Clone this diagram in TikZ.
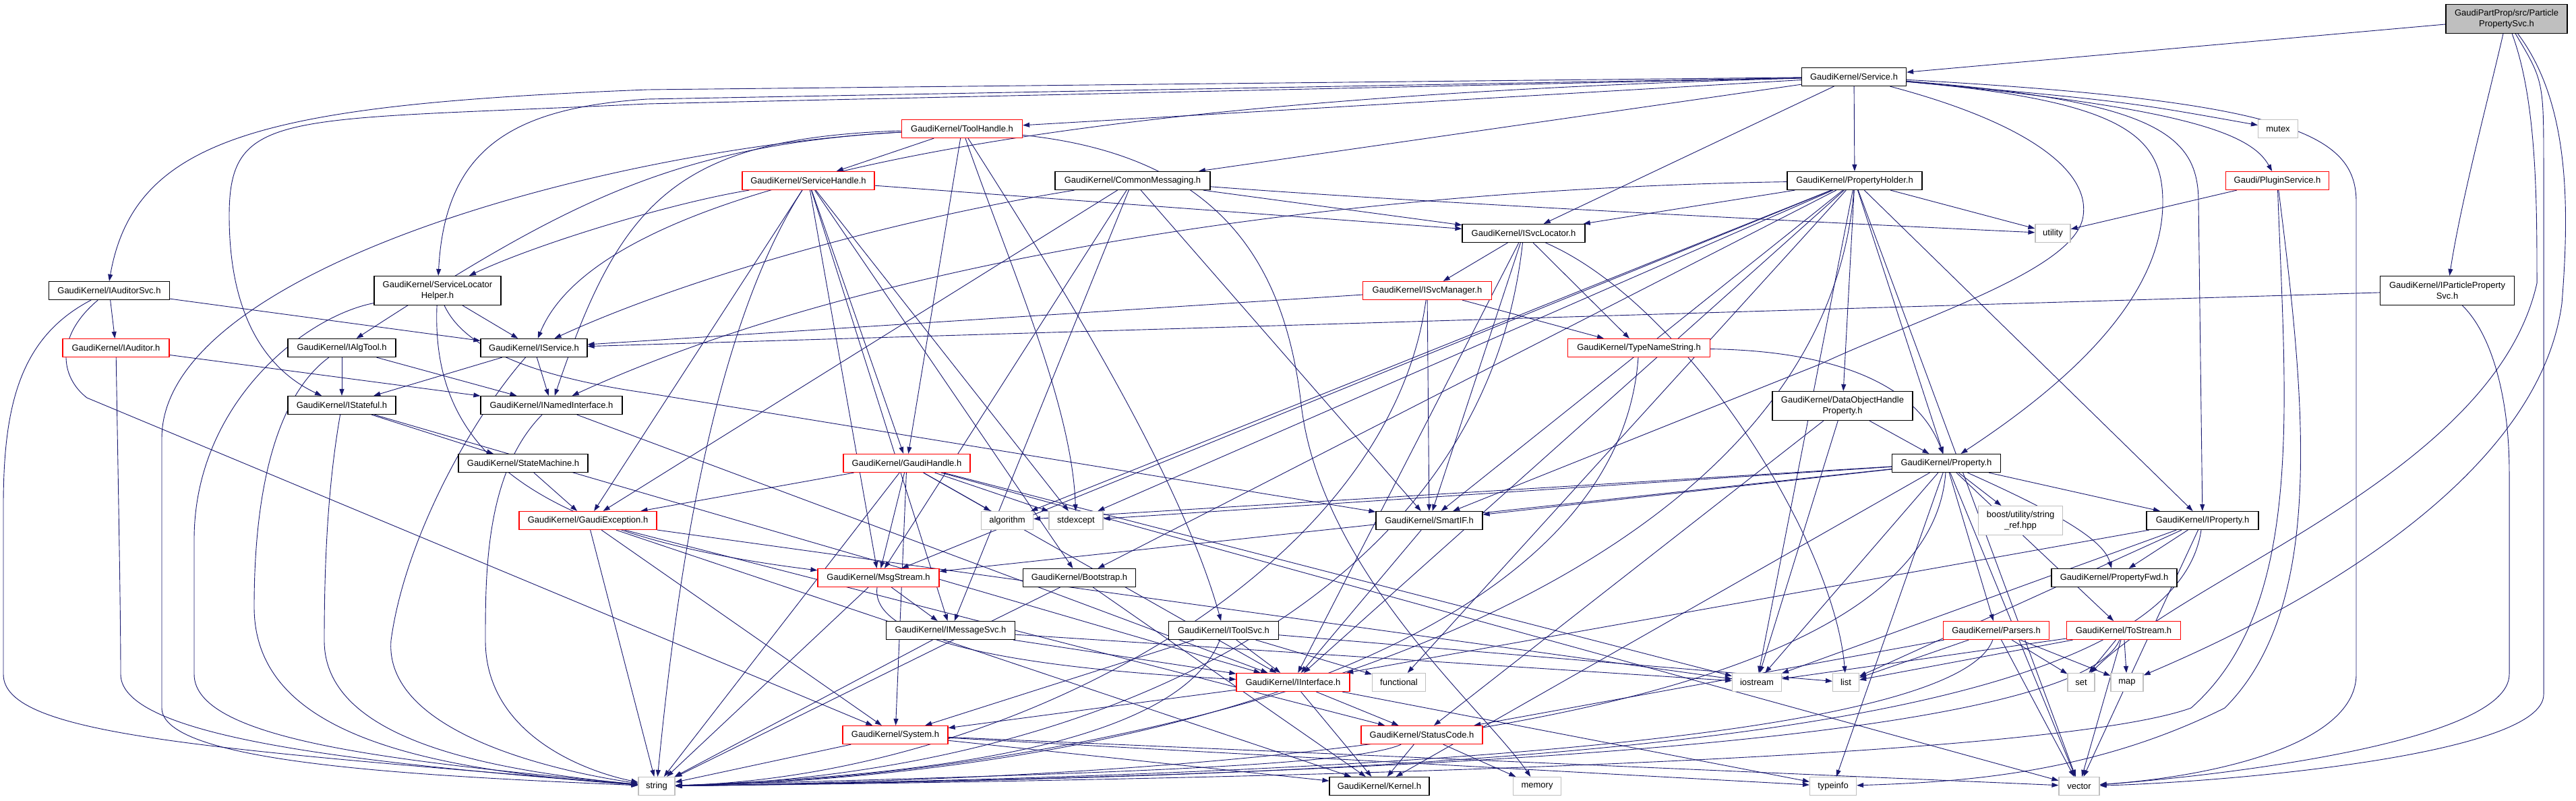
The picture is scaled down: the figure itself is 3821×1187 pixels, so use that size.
\documentclass[tikz,border=0pt]{standalone}
\usepackage{fontspec}
\setmainfont{Liberation Sans}
\usetikzlibrary{arrows.meta}
\pgfdeclarelayer{bg}
\pgfdeclarelayer{edgelayer}
\pgfsetlayers{bg,edgelayer,main}
\definecolor{edgec}{HTML}{191970}
\definecolor{sysgray}{HTML}{BFBFBF}
\tikzset{
  nb/.style={draw=black, fill=white, line width=1.2pt, minimum height=27pt, inner sep=0pt, font=\fontsize{13}{16}\selectfont, align=center},
  nred/.style={nb, draw=red},
  nsys/.style={nb, draw=sysgray},
  nroot/.style={nb, fill=sysgray},
  ed/.style={draw=edgec, line width=0.9pt, -{Triangle[length=10pt,width=7pt]}}
}
\begin{document}
\begin{tikzpicture}[x=1pt,y=-1pt]
\begin{pgfonlayer}{bg}
\fill[white] (0,0) rectangle (3821,1187);
\end{pgfonlayer}
\useasboundingbox (0,0) rectangle (3821,1187);
% nodes
\node[nroot, minimum width=180pt, minimum height=43pt] (pps) at (3718,28) {GaudiPartProp/src/Particle\\PropertySvc.h};
\node[nb, minimum width=155pt] (service) at (2750,114) {GaudiKernel/Service.h};
\node[nsys, minimum width=59pt] (mutex) at (3379,191) {mutex};
\node[nred, minimum width=179pt] (toolhandle) at (1427,191) {GaudiKernel/ToolHandle.h};
\node[nred, minimum width=153pt] (plugin) at (3378,268) {Gaudi/PluginService.h};
\node[nred, minimum width=196pt] (servicehandle) at (1199,268) {GaudiKernel/ServiceHandle.h};
\node[nb, minimum width=230pt] (commsg) at (1680,268) {GaudiKernel/CommonMessaging.h};
\node[nb, minimum width=200pt] (propholder) at (2751,268) {GaudiKernel/PropertyHolder.h};
\node[nsys, minimum width=52pt] (utility) at (3045,346) {utility};
\node[nb, minimum width=182pt] (isvcloc) at (2260,346) {GaudiKernel/ISvcLocator.h};
\node[nb, minimum width=179pt] (iauditorsvc) at (162,431) {GaudiKernel/IAuditorSvc.h};
\node[nb, minimum width=188pt, minimum height=43pt] (slh) at (649,431) {GaudiKernel/ServiceLocator\\Helper.h};
\node[nb, minimum width=199pt, minimum height=43pt] (ipps) at (3630,431) {GaudiKernel/IParticleProperty\\Svc.h};
\node[nred, minimum width=191pt] (isvcmgr) at (2117,431) {GaudiKernel/ISvcManager.h};
\node[nred, minimum width=158pt] (iauditor) at (172,516) {GaudiKernel/IAuditor.h};
\node[nb, minimum width=160pt] (ialgtool) at (507,516) {GaudiKernel/IAlgTool.h};
\node[nb, minimum width=158pt] (iservice) at (792,516) {GaudiKernel/IService.h};
\node[nred, minimum width=211pt] (typename) at (2431,516) {GaudiKernel/TypeNameString.h};
\node[nb, minimum width=160pt] (istateful) at (507,601) {GaudiKernel/IStateful.h};
\node[nb, minimum width=210pt] (inamed) at (818,601) {GaudiKernel/INamedInterface.h};
\node[nb, minimum width=208pt, minimum height=43pt] (dohp) at (2733,602) {GaudiKernel/DataObjectHandle\\Property.h};
\node[nb, minimum width=192pt] (statemachine) at (776,687) {GaudiKernel/StateMachine.h};
\node[nred, minimum width=188pt] (gaudihandle) at (1345,687) {GaudiKernel/GaudiHandle.h};
\node[nb, minimum width=161pt] (property) at (2887,687) {GaudiKernel/Property.h};
\node[nred, minimum width=204pt] (gaudiexc) at (872,772) {GaudiKernel/GaudiException.h};
\node[nsys, minimum width=77pt] (algorithm) at (1494,772) {algorithm};
\node[nsys, minimum width=80pt] (stdexcept) at (1596,772) {stdexcept};
\node[nb, minimum width=158pt] (smartif) at (2120,772) {GaudiKernel/SmartIF.h};
\node[nsys, minimum width=125pt, minimum height=43pt] (boost) at (2997,772) {boost/utility/string\\\_ref.hpp};
\node[nb, minimum width=166pt] (iproperty) at (3267,772) {GaudiKernel/IProperty.h};
\node[nred, minimum width=180pt] (msgstream) at (1303,857) {GaudiKernel/MsgStream.h};
\node[nb, minimum width=167pt] (bootstrap) at (1601,857) {GaudiKernel/Bootstrap.h};
\node[nb, minimum width=186pt] (propfwd) at (3136,857) {GaudiKernel/PropertyFwd.h};
\node[nb, minimum width=191pt] (imsgsvc) at (1410,935) {GaudiKernel/IMessageSvc.h};
\node[nb, minimum width=163pt] (itoolsvc) at (1815,935) {GaudiKernel/IToolSvc.h};
\node[nred, minimum width=157pt] (parsers) at (2961,935) {GaudiKernel/Parsers.h};
\node[nred, minimum width=169pt] (tostream) at (3150,935) {GaudiKernel/ToStream.h};
\node[nred, minimum width=168pt] (iinterface) at (1918,1012) {GaudiKernel/IInterface.h};
\node[nsys, minimum width=79pt] (functional) at (2075,1012) {functional};
\node[nsys, minimum width=73pt] (iostream) at (2606,1012) {iostream};
\node[nsys, minimum width=39pt] (list) at (2738,1012) {list};
\node[nsys, minimum width=40pt] (set) at (3087,1012) {set};
\node[nsys, minimum width=48pt] (map) at (3155,1012) {map};
\node[nred, minimum width=156pt] (system) at (1328,1090) {GaudiKernel/System.h};
\node[nred, minimum width=180pt] (statuscode) at (2109,1090) {GaudiKernel/StatusCode.h};
\node[nsys, minimum width=54pt] (string) at (974,1166) {string};
\node[nb, minimum width=148pt] (kernel) at (2046,1166) {GaudiKernel/Kernel.h};
\node[nsys, minimum width=71pt] (memory) at (2280,1166) {memory};
\node[nsys, minimum width=69pt] (typeinfo) at (2719,1166) {typeinfo};
\node[nsys, minimum width=60pt] (vector) at (3084,1166) {vector};

\begin{pgfonlayer}{edgelayer}
% ParticlePropertySvc
\draw[ed] (pps) -- (service);
\draw[ed] (pps) .. controls (3690,150) and (3650,300) .. (ipps);
\draw[ed] (pps) .. controls (3763,150) and (3763,300) .. (3763,420) .. controls (3700,700) and (3250,850) .. (set);
\draw[ed] (pps) .. controls (3810,150) and (3812,300) .. (3800,450) .. controls (3760,750) and (3300,950) .. (map);
\draw[ed] (pps) .. controls (3773,120) .. (3773,250) -- (3773,1030) .. controls (3773,1120) and (3300,1160) .. (vector);
% Service
\draw[ed] (service) -- (960,133) .. controls (400,155) and (200,200) .. (iauditorsvc.north);
\draw[ed] (service) -- (960,154) .. controls (420,180) and (340,160) .. (340,320) .. controls (340,500) and (420,560) .. (istateful);
\draw[ed] (service) -- (960,147) .. controls (760,160) and (660,220) .. (slh);
\draw[ed] (service) .. controls (1400,150) and (880,300) .. (iservice);
\draw[ed] (service) -- (toolhandle);
\draw[ed] (service) -- (commsg);
\draw[ed] (service) -- (isvcloc);
\draw[ed] (service) -- (propholder);
\draw[ed] (service) .. controls (3000,180) and (3100,250) .. (3090,320) .. controls (3080,400) and (2850,470) .. (2700,540) -- (smartif);
\draw[ed] (service) .. controls (3150,150) and (3208,200) .. (3208,300) .. controls (3208,450) and (3050,580) .. (property);
\draw[ed] (service) .. controls (3200,150) and (3261,200) .. (3261,300) -- (iproperty);
\draw[ed] (service) .. controls (3250,160) and (3340,200) .. (plugin);
\draw[ed] (service) .. controls (3150,150) .. (mutex);
\draw[ed] (service) .. controls (3400,150) and (3495,200) .. (3495,300) -- (3495,1000) .. controls (3495,1100) and (3300,1150) .. (vector);
% ToolHandle
\draw[ed] (toolhandle) -- (servicehandle);
\draw[ed] (toolhandle) -- (gaudihandle);
\draw[ed] (toolhandle) .. controls (1000,215) and (840,300) .. (ialgtool);
\draw[ed] (toolhandle) .. controls (1000,205) and (920,300) .. (inamed);
\draw[ed] (toolhandle) .. controls (900,220) and (240,400) .. (240,650) -- (240,1050) .. controls (240,1130) and (600,1150) .. (string);
\draw[ed] (toolhandle) .. controls (1500,400) and (1590,600) .. (stdexcept);
\draw[ed] (toolhandle) .. controls (1560,400) and (1750,700) .. (itoolsvc);
\draw[ed] (toolhandle) .. controls (1800,230) and (1905,380) .. (1930,600) .. controls (1960,850) and (2200,1050) .. (memory);
% ServiceHandle
\draw[ed] (servicehandle) .. controls (1000,300) and (800,360) .. (slh);
\draw[ed] (servicehandle) -- (isvcloc);
\draw[ed] (servicehandle) -- (gaudihandle);
\draw[ed] (servicehandle) -- (gaudiexc);
\draw[ed] (servicehandle) -- (msgstream);
\draw[ed] (servicehandle) -- (stdexcept);
\draw[ed] (servicehandle) .. controls (1050,500) and (1000,900) .. (string);
\draw[ed] (servicehandle) -- (bootstrap);
\draw[ed] (servicehandle) -- (imsgsvc);
% CommonMessaging
\draw[ed] (commsg) .. controls (1300,330) and (1000,420) .. (iservice);
\draw[ed] (commsg) -- (isvcloc);
\draw[ed] (commsg) .. controls (2100,300) and (2700,330) .. (utility);
\draw[ed] (commsg) -- (msgstream);
\draw[ed] (commsg) -- (imsgsvc);
\draw[ed] (commsg) -- (smartif);
\draw[ed] (commsg) -- (gaudiexc);
% PropertyHolder
\draw[ed] (propholder) -- (isvcloc);
\draw[ed] (propholder) .. controls (2000,280) and (1300,380) .. (inamed);
\draw[ed] (propholder) -- (dohp);
\draw[ed] (propholder) -- (property);
\draw[ed] (propholder) -- (iproperty);
\draw[ed] (propholder) -- (smartif);
\draw[ed] (propholder) -- (iostream);
\draw[ed] (propholder) .. controls (2700,900) and (1700,1150) .. (string);
\draw[ed] (propholder) -- (vector);
\draw[ed] (propholder) -- (utility);
\draw[ed] (propholder) -- (algorithm);
\draw[ed] (propholder) -- (stdexcept);
\draw[ed] (propholder) -- (msgstream);
\draw[ed] (propholder) -- (iinterface);
\draw[ed] (propholder) -- (functional);
\draw[ed] (propholder) -- (bootstrap);
% ISvcLocator
\draw[ed] (isvcloc) -- (isvcmgr);
\draw[ed] (isvcloc) -- (typename);
\draw[ed] (isvcloc) -- (smartif);
\draw[ed] (isvcloc) .. controls (2500,450) and (2720,800) .. (list);
\draw[ed] (isvcloc) .. controls (2200,900) and (1600,1150) .. (string);
\draw[ed] (isvcloc) -- (iinterface);
% ISvcManager
\draw[ed] (isvcmgr) -- (iservice);
\draw[ed] (isvcmgr) -- (typename);
\draw[ed] (isvcmgr) -- (smartif);
\draw[ed] (isvcmgr) .. controls (2060,850) and (1500,1150) .. (string);
% TypeNameString
\draw[ed] (typename) .. controls (2700,520) and (2840,560) .. (property);
\draw[ed] (typename) .. controls (2400,950) and (1700,1150) .. (string);
% IAuditorSvc
\draw[ed] (iauditorsvc) -- (iauditor);
\draw[ed] (iauditorsvc) -- (iservice);
\draw[ed] (iauditorsvc) .. controls (30,500) and (5,600) .. (5,750) -- (5,1000) .. controls (5,1090) and (300,1110) .. (string);
\draw[ed] (iauditorsvc) .. controls (80,500) and (90,560) .. (129,590) -- (system);
% IAuditor
\draw[ed] (iauditor) -- (inamed);
\draw[ed] (iauditor) .. controls (175,700) and (179,900) .. (179,1000) .. controls (179,1090) and (500,1130) .. (string);
% IAlgTool
\draw[ed] (ialgtool) -- (istateful);
\draw[ed] (ialgtool) -- (inamed);
\draw[ed] (ialgtool) .. controls (420,580) and (377,700) .. (377,900) .. controls (377,1080) and (600,1140) .. (string);
% IService
\draw[ed] (iservice) -- (istateful);
\draw[ed] (iservice) -- (inamed);
\draw[ed] (iservice) .. controls (700,620) and (600,800) .. (580,950) .. controls (570,1080) and (800,1140) .. (string);
% IStateful
\draw[ed] (istateful) -- (statemachine);
\draw[ed] (istateful) .. controls (490,700) and (481,800) .. (481,950) .. controls (481,1090) and (700,1140) .. (string);
\draw[ed] (istateful) -- (iinterface);
% INamedInterface
\draw[ed] (inamed) -- (iinterface);
\draw[ed] (inamed) .. controls (720,700) and (720,850) .. (720,950) .. controls (720,1080) and (850,1140) .. (string);
% StateMachine
\draw[ed] (statemachine) -- (gaudiexc);
% ServiceLocatorHelper
\draw[ed] (slh) -- (iservice);
\draw[ed] (slh) .. controls (450,470) and (288,600) .. (288,800) -- (288,1000) .. controls (288,1100) and (600,1130) .. (string);
\draw[ed] (slh) .. controls (640,650) and (760,790) .. (msgstream);
\draw[ed] (slh) .. controls (690,520) and (800,560) .. (960,583) -- (smartif);
% GaudiHandle
\draw[ed] (gaudihandle) -- (gaudiexc);
\draw[ed] (gaudihandle) -- (algorithm);
\draw[ed] (gaudihandle) -- (stdexcept);
\draw[ed] (gaudihandle) -- (system);
\draw[ed] (gaudihandle) -- (string);
\draw[ed] (gaudihandle) -- (iinterface);
\draw[ed] (gaudihandle) -- (iostream);
\draw[ed] (gaudihandle) -- (vector);
\draw[ed] (gaudihandle) -- (msgstream);
% GaudiException
\draw[ed] (gaudiexc) -- (statuscode);
\draw[ed] (gaudiexc) -- (system);
\draw[ed] (gaudiexc) -- (kernel);
\draw[ed] (gaudiexc) -- (string);
\draw[ed] (gaudiexc) -- (iostream);
% MsgStream
\draw[ed] (msgstream) -- (imsgsvc);
\draw[ed] (msgstream) -- (string);
\draw[ed] (msgstream) .. controls (1290,950) and (1500,990) .. (iinterface);
% Bootstrap
\draw[ed] (bootstrap) -- (string);
\draw[ed] (bootstrap) -- (kernel);
% IMessageSvc
\draw[ed] (imsgsvc) -- (string);
\draw[ed] (imsgsvc) -- (iinterface);
\draw[ed] (imsgsvc) -- (iostream);
% IToolSvc
\draw[ed] (itoolsvc) -- (iinterface);
\draw[ed] (itoolsvc) .. controls (1750,1100) and (1400,1150) .. (string);
\draw[ed] (itoolsvc) -- (system);
\draw[ed] (itoolsvc) -- (functional);
\draw[ed] (itoolsvc) -- (list);
% IInterface
\draw[ed] (iinterface) -- (statuscode);
\draw[ed] (iinterface) -- (kernel);
\draw[ed] (iinterface) -- (system);
\draw[ed] (iinterface) -- (typeinfo);
% System
\draw[ed] (system) -- (string);
\draw[ed] (system) -- (kernel);
\draw[ed] (system) -- (vector);
\draw[ed] (system) -- (typeinfo);
% StatusCode
\draw[ed] (statuscode) -- (kernel);
\draw[ed] (statuscode) -- (memory);
\draw[ed] (statuscode) .. controls (2000,1140) and (1500,1150) .. (string);
% SmartIF
\draw[ed] (smartif) -- (iinterface);
% IProperty
\draw[ed] (iproperty) -- (propfwd);
\draw[ed] (iproperty) -- (iinterface);
\draw[ed] (iproperty) .. controls (3220,1100) and (2200,1150) .. (string);
\draw[ed] (iproperty) -- (vector);
\draw[ed] (iproperty) -- (iostream);
\draw[ed] (iproperty) -- (list);
% Property
\draw[ed] (property) -- (iproperty);
\draw[ed] (property) .. controls (3050,760) and (3120,800) .. (propfwd);
\draw[ed] (property) -- (smartif);
\draw[ed] (property) -- (stdexcept);
\draw[ed] (property) -- (algorithm);
\draw[ed] (property) -- (boost);
\draw[ed] (property) -- (parsers);
\draw[ed] (property) -- (tostream);
\draw[ed] (property) .. controls (2860,1050) and (2000,1150) .. (string);
\draw[ed] (property) -- (iostream);
\draw[ed] (property) -- (vector);
\draw[ed] (property) -- (typeinfo);
\draw[ed] (property) -- (msgstream);
\draw[ed] (property) -- (kernel);
% DataObjectHandleProperty
\draw[ed] (dohp) -- (property);
\draw[ed] (dohp) -- (statuscode);
\draw[ed] (dohp) -- (iostream);
% Parsers
\draw[ed] (parsers) -- (set);
\draw[ed] (parsers) -- (map);
\draw[ed] (parsers) -- (vector);
\draw[ed] (parsers) -- (list);
\draw[ed] (parsers) .. controls (2900,1100) and (2000,1150) .. (string);
\draw[ed] (parsers) -- (statuscode);
% ToStream
\draw[ed] (tostream) -- (set);
\draw[ed] (tostream) -- (map);
\draw[ed] (tostream) -- (vector);
\draw[ed] (tostream) -- (iostream);
\draw[ed] (tostream) -- (list);
\draw[ed] (tostream) .. controls (3080,1100) and (2100,1150) .. (string);
% PluginService
\draw[ed] (plugin) -- (utility);
\draw[ed] (plugin) .. controls (3390,600) and (3420,900) .. (3250,1050) .. controls (3000,1140) and (1500,1160) .. (string);
\draw[ed] (plugin) .. controls (3420,600) and (3450,900) .. (3300,1050) .. controls (3100,1150) and (2900,1160) .. (typeinfo);
% IParticlePropertySvc
\draw[ed] (ipps) -- (iservice);
\draw[ed] (ipps) .. controls (3700,500) and (3722,600) .. (3722,700) -- (3722,1000) .. controls (3722,1100) and (3300,1150) .. (vector);
\end{pgfonlayer}
\end{tikzpicture}
\end{document}
